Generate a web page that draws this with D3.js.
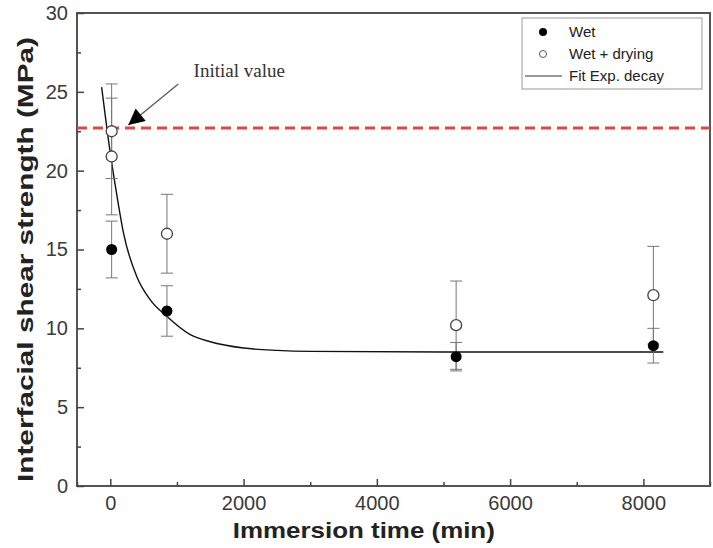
<!DOCTYPE html>
<html>
<head>
<meta charset="utf-8">
<script src="https://cdn.jsdelivr.net/npm/d3@7"></script>
<style>
  body { margin: 0; background: #fff; }
  svg { display: block; font-family: "Liberation Sans", Arial, sans-serif; }
  .tick text { fill: #3a3a3a; font-size: 20px; }
  .axis path, .axis line { stroke: #444; }
</style>
</head>
<body>
<div id="chart"></div>
<script>
// immersion time (min) and IFSS (MPa)
const wetTime = [20, 850, 5190, 8150]
const wetValue = [15.0, 11.1, 8.2, 8.9]
const wetErr = [1.8, 1.6, 0.9, 1.1]

const dryTime = [20, 20, 850, 5190, 8150]
const dryValue = [22.5, 20.9, 16.0, 10.2, 12.1]
const dryErr = [3.0, 3.7, 2.5, 2.8, 3.1]

// points along the exponential decay fit curve
const fitTime = [-130, 0, 100, 200, 400, 600, 850, 1200, 1500, 2000, 2500, 3000, 5000, 8300]
const fitValue = [25.3, 21.1, 18.4, 16.0, 13.25, 11.8, 10.75, 9.6, 9.15, 8.75, 8.6, 8.54, 8.5, 8.5]

const initialValue = 22.7

const xTicks = [0, 2000, 4000, 6000, 8000]
const xMinor = [-500, 1000, 3000, 5000, 7000, 9000]
const yTicks = [0, 5, 10, 15, 20, 25, 30]
const yMinor = [2.5, 7.5, 12.5, 17.5, 22.5, 27.5]

const legendLabels = ['Wet', 'Wet + drying', 'Fit Exp. decay']

const width = 713
const height = 548
const margin = {top: 13, right: 3, bottom: 62, left: 77}
const chartWidth = width - margin.left - margin.right
const chartHeight = height - margin.top - margin.bottom

const svg = d3.select('#chart').append('svg')
  .attr('width', width)
  .attr('height', height)

const g = svg.append('g')
  .attr('transform', `translate(${margin.left}, ${margin.top})`)

const x = d3.scaleLinear().domain([-500, 9000]).range([0, chartWidth])
const y = d3.scaleLinear().domain([0, 30]).range([chartHeight, 0])

// frame
g.append('rect')
  .attr('width', chartWidth)
  .attr('height', chartHeight)
  .attr('fill', 'none')
  .attr('stroke', '#555')
  .attr('stroke-width', 2)

// axes, ticks point inward
const xAxis = g.append('g')
  .attr('class', 'axis')
  .attr('transform', `translate(0, ${chartHeight})`)
  .call(d3.axisBottom(x).tickValues(xTicks).tickSizeInner(-7).tickSizeOuter(0).tickPadding(10).tickFormat(d3.format('d')))
xAxis.select('.domain').remove()

g.append('g')
  .attr('class', 'axis')
  .attr('transform', `translate(0, ${chartHeight})`)
  .call(d3.axisBottom(x).tickValues(xMinor).tickSizeInner(-4).tickSizeOuter(0).tickFormat(''))
  .select('.domain').remove()

const yAxis = g.append('g')
  .attr('class', 'axis')
  .call(d3.axisLeft(y).tickValues(yTicks).tickSizeInner(-7).tickSizeOuter(0).tickPadding(9))
yAxis.select('.domain').remove()

g.append('g')
  .attr('class', 'axis')
  .call(d3.axisLeft(y).tickValues(yMinor).tickSizeInner(-4).tickSizeOuter(0).tickFormat(''))
  .select('.domain').remove()

g.selectAll('.axis line').attr('stroke-width', 1.5)

// axis titles
svg.append('text')
  .attr('x', margin.left + x(4000) - 13)
  .attr('y', 538)
  .attr('text-anchor', 'middle')
  .attr('font-size', 22)
  .attr('font-weight', 'bold')
  .attr('fill', '#222')
  .attr('textLength', 262)
  .attr('lengthAdjust', 'spacingAndGlyphs')
  .text('Immersion time (min)')

svg.append('text')
  .attr('transform', `translate(33, ${margin.top + chartHeight / 2 + 10}) rotate(-90)`)
  .attr('text-anchor', 'middle')
  .attr('font-size', 22)
  .attr('font-weight', 'bold')
  .attr('fill', '#222')
  .attr('textLength', 445)
  .attr('lengthAdjust', 'spacingAndGlyphs')
  .text('Interfacial shear strength (MPa)')

// initial value reference
g.append('line')
  .attr('x1', 0)
  .attr('x2', chartWidth)
  .attr('y1', y(initialValue))
  .attr('y2', y(initialValue))
  .attr('stroke', '#e04848')
  .attr('stroke-width', 3)
  .attr('stroke-dasharray', '10,6')

// fit curve
const line = d3.line()
  .x((d, i) => x(fitTime[i]))
  .y(d => y(d))
  .curve(d3.curveMonotoneX)

g.append('path')
  .attr('d', line(fitValue))
  .attr('fill', 'none')
  .attr('stroke', '#111')
  .attr('stroke-width', 1.4)

// error bars
function errorBars(times, values, errs) {
  const bars = g.append('g').attr('stroke', '#777').attr('stroke-width', 1)
  values.forEach((v, i) => {
    const cx = x(times[i])
    bars.append('line').attr('x1', cx).attr('x2', cx).attr('y1', y(v - errs[i])).attr('y2', y(v + errs[i]))
    ;[v - errs[i], v + errs[i]].forEach(e => {
      bars.append('line').attr('x1', cx - 6).attr('x2', cx + 6).attr('y1', y(e)).attr('y2', y(e))
    })
  })
}
errorBars(dryTime, dryValue, dryErr)
errorBars(wetTime, wetValue, wetErr)

g.append('g').selectAll('circle')
  .data(dryValue)
  .join('circle')
  .attr('cx', (d, i) => x(dryTime[i]))
  .attr('cy', d => y(d))
  .attr('r', 5.5)
  .attr('fill', '#fff')
  .attr('stroke', '#444')
  .attr('stroke-width', 1.3)

g.append('g').selectAll('circle')
  .data(wetValue)
  .join('circle')
  .attr('cx', (d, i) => x(wetTime[i]))
  .attr('cy', d => y(d))
  .attr('r', 5.5)
  .attr('fill', '#000')

// annotation
svg.append('defs').append('marker')
  .attr('id', 'head')
  .attr('viewBox', '0 0 10 10')
  .attr('refX', 10)
  .attr('refY', 5)
  .attr('markerWidth', 22)
  .attr('markerHeight', 16)
  .attr('markerUnits', 'userSpaceOnUse')
  .attr('orient', 'auto')
  .append('path')
  .attr('d', 'M0,0L10,5L0,10Z')
  .attr('fill', '#000')

g.append('line')
  .attr('x1', x(1020))
  .attr('y1', y(25.5))
  .attr('x2', x(270))
  .attr('y2', y(22.9))
  .attr('stroke', '#555')
  .attr('stroke-width', 1.2)
  .attr('marker-end', 'url(#head)')

g.append('text')
  .attr('x', x(1250))
  .attr('y', y(25.95))
  .attr('font-family', '"Liberation Serif", "Times New Roman", serif')
  .attr('font-size', 19)
  .attr('fill', '#333')
  .text('Initial value')

// legend
const legend = svg.append('g').attr('transform', 'translate(522, 18)')
legend.append('rect')
  .attr('width', 180)
  .attr('height', 71)
  .attr('fill', '#fff')
  .attr('stroke', '#999')

const rows = legend.selectAll('.row')
  .data(legendLabels)
  .join('g')
  .attr('class', 'row')
  .attr('transform', (d, i) => `translate(0, ${14 + i * 22})`)

rows.append('text')
  .attr('x', 47)
  .attr('dy', '0.35em')
  .attr('font-size', 15)
  .attr('fill', '#222')
  .text(d => d)

rows.filter((d, i) => i === 0).append('circle').attr('cx', 21).attr('r', 4).attr('fill', '#000')
rows.filter((d, i) => i === 1).append('circle').attr('cx', 21).attr('r', 3.5).attr('fill', '#fff').attr('stroke', '#555')
rows.filter((d, i) => i === 2).append('line').attr('x1', 3).attr('x2', 40).attr('stroke', '#333').attr('stroke-width', 1.2)
</script>
</body>
</html>
